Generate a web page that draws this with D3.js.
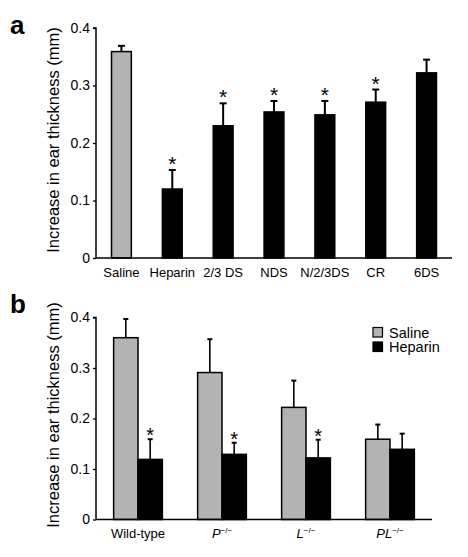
<!DOCTYPE html>
<html><head><meta charset="utf-8">
<script src="https://cdn.jsdelivr.net/npm/d3@7/dist/d3.min.js"></script>
<style>body{margin:0;background:#fff}svg{display:block}text{font-family:"Liberation Sans",Arial,sans-serif}</style>
</head><body>
<svg id="c" width="468" height="557"></svg>
<script>
// Panel a data
const catsA = ["Saline","Heparin","2/3 DS","NDS","N/2/3DS","CR","6DS"];
const valsA = [0.359,0.120,0.230,0.254,0.249,0.271,0.322];
const errA  = [0.010,0.033,0.039,0.019,0.024,0.022,0.023];
const sigA  = [false,true,true,true,true,true,false];
// Panel b data
const groupsB = ["Wild-type","P","L","PL"];
const seriesB = ["Saline","Heparin"];
const salineB = [0.360,0.291,0.222,0.159];
const heparinB = [0.119,0.129,0.122,0.139];
const salineErrB = [0.037,0.066,0.053,0.029];
const heparinErrB = [0.040,0.023,0.036,0.031];
const sigB = [true,true,true,false];
const yTicks = [0,0.1,0.2,0.3,0.4];

const svg = d3.select("#c");
const GRAY = "#b3b3b3";
const fmt = d => d === 0 ? "0" : d3.format(".1f")(d);

function yAxisTitle(g, cy) {
  g.append("text").attr("transform", `translate(59,${cy}) rotate(-90)`)
    .attr("text-anchor","middle").attr("font-size",16.5).text("Increase in ear thickness (mm)");
}
function drawYAxis(g, y) {
  const ax = g.append("g").attr("transform","translate(96,0)")
    .call(d3.axisLeft(y).tickValues(yTicks).tickFormat(fmt).tickSize(3).tickPadding(3));
  ax.select(".domain").attr("stroke-width",1.5).attr("d", `M-3,${y(0.4)}H0V${y(0)}`);
  ax.selectAll(".tick line").attr("stroke-width",1.3);
  ax.selectAll(".tick text").attr("font-size",14).attr("font-family","Liberation Sans, Arial, sans-serif");
}

// ---------- Panel a ----------
const ga = svg.append("g");
const xA = d3.scaleBand().domain(catsA).range([96,452]).paddingInner(0.61).paddingOuter(0.305);
const yA = d3.scaleLinear().domain([0,0.4]).range([258,28]);
ga.append("text").attr("x",10).attr("y",34).attr("font-family","DejaVu Serif, serif")
  .attr("font-weight","bold").attr("font-size",26).text("a");
yAxisTitle(ga, 140);
// error bars
catsA.forEach((c,i) => {
  const cx = xA(c) + xA.bandwidth()/2;
  ga.append("line").attr("x1",cx).attr("x2",cx).attr("y1",yA(valsA[i])).attr("y2",yA(valsA[i]+errA[i]))
    .attr("stroke","#000").attr("stroke-width",2);
  ga.append("line").attr("x1",cx-3.5).attr("x2",cx+3.5).attr("y1",yA(valsA[i]+errA[i])).attr("y2",yA(valsA[i]+errA[i]))
    .attr("stroke","#000").attr("stroke-width",2);
  if (sigA[i]) ga.append("text").attr("x",cx).attr("y",yA(valsA[i]+errA[i])+1).attr("text-anchor","middle")
    .attr("font-size",21).text("*");
});
ga.selectAll("rect.bar").data(catsA).join("rect")
  .attr("x", d => xA(d)).attr("width", xA.bandwidth())
  .attr("y", (d,i) => yA(valsA[i])).attr("height", (d,i) => yA(0)-yA(valsA[i]))
  .attr("fill", (d,i) => i===0 ? GRAY : "#000").attr("stroke","#000").attr("stroke-width",1.5);
drawYAxis(ga, yA);
ga.append("line").attr("x1",96).attr("x2",452).attr("y1",yA(0)).attr("y2",yA(0)).attr("stroke","#000").attr("stroke-width",1.5);
ga.selectAll("text.xl").data(catsA).join("text").attr("class","xl")
  .attr("x", d => xA(d)+xA.bandwidth()/2).attr("y",277).attr("text-anchor","middle")
  .attr("font-size",13).text(d => d);

// ---------- Panel b ----------
const gb = svg.append("g");
const xB = d3.scaleBand().domain(groupsB).range([96,432]).paddingInner(0.42).paddingOuter(0.21);
const xS = d3.scaleBand().domain(seriesB).range([0,xB.bandwidth()]);
const yB = d3.scaleLinear().domain([0,0.4]).range([519.5,317.5]);
gb.append("text").attr("x",10).attr("y",313).attr("font-family","DejaVu Serif, serif")
  .attr("font-weight","bold").attr("font-size",26).text("b");
yAxisTitle(gb, 415);
const rowsB = [];
groupsB.forEach((g,i) => {
  rowsB.push({g, s:"Saline", v:salineB[i], e:salineErrB[i], sig:false});
  rowsB.push({g, s:"Heparin", v:heparinB[i], e:heparinErrB[i], sig:sigB[i]});
});
rowsB.forEach(r => {
  const cx = xB(r.g) + xS(r.s) + xS.bandwidth()/2;
  gb.append("line").attr("x1",cx).attr("x2",cx).attr("y1",yB(r.v)).attr("y2",yB(r.v+r.e))
    .attr("stroke","#000").attr("stroke-width",1.6);
  gb.append("line").attr("x1",cx-2.5).attr("x2",cx+2.5).attr("y1",yB(r.v+r.e)).attr("y2",yB(r.v+r.e))
    .attr("stroke","#000").attr("stroke-width",2);
  if (r.sig) gb.append("text").attr("x",cx).attr("y",yB(r.v+r.e)+3).attr("text-anchor","middle")
    .attr("font-size",20).text("*");
});
gb.selectAll("rect.bar").data(rowsB).join("rect")
  .attr("x", d => xB(d.g)+xS(d.s)).attr("width", xS.bandwidth())
  .attr("y", d => yB(d.v)).attr("height", d => yB(0)-yB(d.v))
  .attr("fill", d => d.s==="Saline" ? GRAY : "#000").attr("stroke","#000").attr("stroke-width",1.5);
drawYAxis(gb, yB);
gb.append("line").attr("x1",96).attr("x2",432).attr("y1",yB(0)).attr("y2",yB(0)).attr("stroke","#000").attr("stroke-width",1.5);
groupsB.forEach((g,i) => {
  const t = gb.append("text").attr("x", xB(g)+xB.bandwidth()/2).attr("y",538).attr("text-anchor","middle").attr("font-size",13);
  if (i===0) { t.text(g); }
  else {
    t.append("tspan").attr("font-style","italic").text(g);
    t.append("tspan").attr("font-size",8).attr("dy",-5).text("−/−");
  }
});
// legend
seriesB.forEach((s,i) => {
  gb.append("rect").attr("x",373).attr("y",327.5+i*14.5).attr("width",9.5).attr("height",9.5)
    .attr("fill", s==="Saline" ? GRAY : "#000").attr("stroke","#000").attr("stroke-width",1.2);
  gb.append("text").attr("x",389).attr("y",337.5+i*14.5).attr("font-size",14.5).text(s);
});
</script>
</body></html>
